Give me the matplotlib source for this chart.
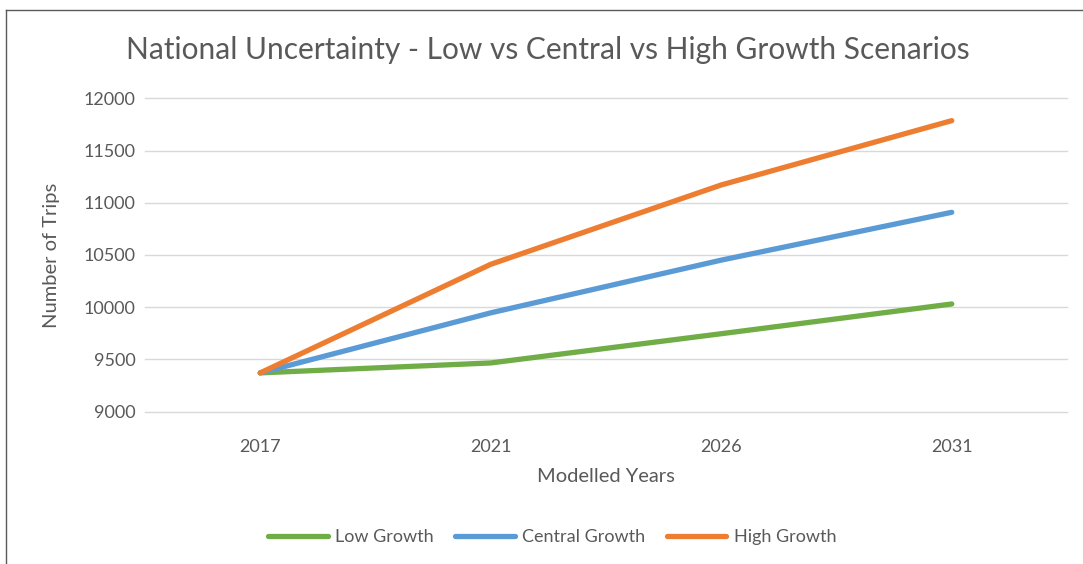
import matplotlib
matplotlib.use("Agg")
import matplotlib.pyplot as plt
from matplotlib.lines import Line2D

years = ["2017", "2021", "2026", "2031"]
low = [9370, 9465, 9745, 10030]
central = [9370, 9945, 10450, 10908]
high = [9370, 10410, 11170, 11786]
series_names = ["Low Growth", "Central Growth", "High Growth"]
colors = ["#70AD47", "#5B9BD5", "#ED7D31"]
yticks = [9000, 9500, 10000, 10500, 11000, 11500, 12000]

plt.rcParams['font.family'] = ['Lato', 'DejaVu Sans']
W, H = 1083, 564
fig = plt.figure(figsize=(W/100, H/100), dpi=100)
ax = fig.add_axes([145/W, 1-411.5/H, (1067-145)/W, (411.5-98.3)/H])

x = list(range(len(years)))
for vals, name, c in zip([low, central, high], series_names, colors):
    ax.plot(x, vals, color=c, lw=3.8, solid_capstyle='round', label=name)

ax.set_xlim(-0.5, len(years)-0.5)
ax.set_ylim(9000, 12000)
ax.set_yticks(yticks)
ax.set_yticklabels([str(t) for t in yticks])
ax.set_xticks(x)
ax.set_xticklabels(years)
ax.grid(axis='y', color='#d9d9d9', lw=1)
for gl in ax.get_ygridlines():
    gl.set_clip_on(False)
ax.set_axisbelow(True)
for s in ax.spines.values():
    s.set_visible(False)
ax.tick_params(length=0, labelsize=13, colors='#595959', pad=7)
ax.tick_params(axis='x', pad=20)

fig.text(548/W, 1-50/H, "National Uncertainty - Low vs Central vs High Growth Scenarios",
         ha='center', va='center', fontsize=21.5, color='#595959')
fig.text(52/W, 1-255/H, "Number of Trips", rotation=90, ha='center', va='center',
         fontsize=14.5, color='#595959')
fig.text(606/W, 1-476/H, "Modelled Years", ha='center', va='center',
         fontsize=14.5, color='#595959')

handles = [Line2D([0], [0], color=c, lw=3.8, solid_capstyle='round') for c in colors]
fig.legend(handles, series_names, loc='center', bbox_to_anchor=(552/W, 1-537/H),
           ncol=3, frameon=False, fontsize=13, handlelength=3.3,
           columnspacing=1.2, handletextpad=0.4, labelcolor='#595959')

# outer chart frame (top and left edges visible)
fig.add_artist(Line2D([6/W, 1], [1-10/H, 1-10/H], color='#595959', lw=1, transform=fig.transFigure))
fig.add_artist(Line2D([6/W, 6/W], [0, 1-10/H], color='#595959', lw=1, transform=fig.transFigure))

fig.savefig("out.png", dpi=100, facecolor='white')
